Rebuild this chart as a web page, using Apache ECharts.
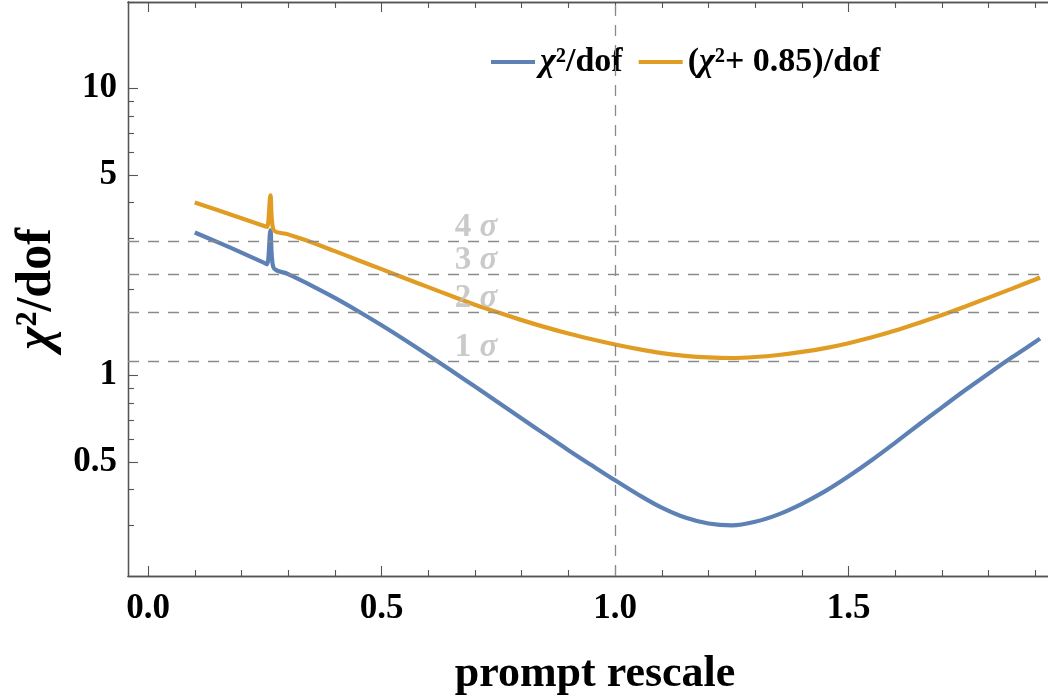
<!DOCTYPE html>
<html>
<head>
<meta charset="utf-8">
<script src="https://cdn.jsdelivr.net/npm/echarts@6/dist/echarts.min.js"></script>
<style>html,body{margin:0;padding:0;background:#fff;}#chart{width:1048px;height:698px;}</style>
</head>
<body>
<div id="chart"></div>
<script>
// ---- data ----
const promptRescale = [0.10,0.15,0.20,0.25,0.255,0.262,0.268,0.30,0.35,0.40,0.45,0.50,0.55,0.60,0.65,0.70,0.75,0.80,0.85,0.90,0.95,1.00,1.05,1.10,1.15,1.20,1.25,1.30,1.35,1.40,1.45,1.50,1.55,1.60,1.65,1.70,1.75,1.80,1.85,1.90,1.91];
const chi2dof = [3.148,2.908,2.679,2.460,2.438,3.20,2.385,2.254,2.056,1.862,1.673,1.495,1.329,1.176,1.038,0.914,0.805,0.708,0.623,0.549,0.486,0.431,0.384,0.346,0.3195,0.3047,0.3003,0.309,0.328,0.357,0.395,0.445,0.507,0.583,0.673,0.774,0.889,1.016,1.156,1.309,1.343];
const chi2PlusDof = [4.00,3.76,3.53,3.31,3.29,4.24,3.23,3.10,2.91,2.71,2.52,2.345,2.18,2.03,1.89,1.764,1.655,1.558,1.473,1.399,1.336,1.281,1.234,1.196,1.170,1.155,1.150,1.159,1.178,1.207,1.245,1.295,1.357,1.433,1.523,1.624,1.739,1.866,2.006,2.159,2.193];
const sigmaLevels = [1.12, 1.66, 2.25, 2.93];
const sigmaNames = ['1', '2', '3', '4'];
const refLineX = [1.0];
const xMajorTicks = [0, 0.5, 1.0, 1.5];
const xMinorTicks = [0.1,0.2,0.3,0.4,0.6,0.7,0.8,0.9,1.1,1.2,1.3,1.4,1.6,1.7,1.8,1.9];
const yMajorTicks = [0.5, 1, 5, 10];
const yMinorTicks = [0.3,0.4,0.6,0.7,0.8,0.9,2,3,4,6,7,8,9,20];
const seriesNames = ['chi2', 'chi2plus'];

// ---- styles ----
const FONT = 'Liberation Serif';
const AX = '#555555';
const BLUE = '#5E81B5';
const ORANGE = '#E19C24';
const SIGMA_GREY = '#bdbdbd';
const XMIN = -0.043, XMAX = 1.927, YMIN = 0.2, YMAX = 20;

function xAxisDef(pos, ticks, len, labels) {
  return {
    type: 'value', min: XMIN, max: XMAX, position: pos,
    axisLine: { show: true, onZero: false, lineStyle: { color: AX, width: 1.3 } },
    axisTick: { show: true, inside: true, length: len, customValues: ticks, lineStyle: { color: AX, width: 1.1 } },
    axisLabel: labels ? {
      show: true, customValues: ticks, margin: 15, color: '#000',
      fontFamily: FONT, fontWeight: 'bold', fontSize: 35,
      formatter: v => Number(v).toFixed(1)
    } : { show: false },
    splitLine: { show: false }
  };
}
function yAxisDef(ticks, len, labels) {
  return {
    type: 'log', logBase: 10, min: YMIN, max: YMAX, position: 'left',
    axisLine: { show: true, onZero: false, lineStyle: { color: AX, width: 1.3 } },
    axisTick: { show: true, inside: true, length: len, customValues: ticks, lineStyle: { color: AX, width: 1.1 } },
    axisLabel: labels ? {
      show: true, customValues: ticks, margin: 11, color: '#000',
      fontFamily: FONT, fontWeight: 'bold', fontSize: 35,
      formatter: v => String(Number(v))
    } : { show: false },
    splitLine: { show: false }
  };
}

const xData = xAxisDef('bottom', xMajorTicks, 10, true);
xData.name = 'prompt rescale';
xData.nameLocation = 'middle';
xData.nameGap = 77;
xData.nameTextStyle = { fontFamily: FONT, fontWeight: 'bold', fontSize: 44, color: '#000', padding: [0, 0, 0, 14] };

const yData = yAxisDef(yMajorTicks, 10, true);
yData.name = '{i|χ}{n|²/dof}';
yData.nameLocation = 'middle';
yData.nameGap = 60;
yData.nameTextStyle = {
  fontFamily: FONT, fontWeight: 'bold', fontSize: 50, color: '#000',
  rich: {
    i: { fontFamily: FONT, fontWeight: 'bold', fontStyle: 'italic', fontSize: 50, color: '#000' },
    n: { fontFamily: FONT, fontWeight: 'bold', fontSize: 50, color: '#000' }
  }
};

const pairs = (xs, ys) => xs.map((x, i) => [x, ys[i]]);

const lineMarks = {
  silent: true, symbol: 'none',
  label: { show: false },
  lineStyle: { color: '#8a8a8a', type: [11, 9], width: 1.3 },
  data: sigmaLevels.map(v => ({ yAxis: v })).concat(refLineX.map(v => ({ xAxis: v })))
};

const option = {
  animation: false,
  backgroundColor: '#fff',
  grid: { left: 128, right: 0, top: 2, bottom: 122, containLabel: false, outerBoundsMode: 'none' },
  legend: {
    left: 491, top: 45, padding: 0,
    icon: 'rect', itemWidth: 44, itemHeight: 4, itemGap: 16,
    data: seriesNames,
    formatter: n => n === 'chi2' ? '{i|χ}{n|²/dof}' : '{n|(}{i|χ}{n|²+ 0.85)/dof}',
    textStyle: {
      fontFamily: FONT, fontWeight: 'bold', fontSize: 34, color: '#000',
      rich: {
        i: { fontFamily: FONT, fontWeight: 'bold', fontStyle: 'italic', fontSize: 34, color: '#000' },
        n: { fontFamily: FONT, fontWeight: 'bold', fontSize: 34, color: '#000' }
      }
    }
  },
  xAxis: [
    xData,
    xAxisDef('bottom', xMinorTicks, 6, false),
    xAxisDef('top', xMajorTicks, 10, false),
    xAxisDef('top', xMinorTicks, 6, false)
  ],
  yAxis: [
    yData,
    yAxisDef(yMinorTicks, 6, false)
  ],
  series: [
    {
      name: 'chi2', type: 'line', xAxisIndex: 0, yAxisIndex: 0,
      data: pairs(promptRescale, chi2dof),
      showSymbol: false, symbol: 'none', smooth: 0.35,
      lineStyle: { color: BLUE, width: 4.2 }, itemStyle: { color: BLUE },
      markLine: lineMarks, z: 3
    },
    {
      name: 'chi2plus', type: 'line', xAxisIndex: 0, yAxisIndex: 0,
      data: pairs(promptRescale, chi2PlusDof),
      showSymbol: false, symbol: 'none', smooth: 0.35,
      lineStyle: { color: ORANGE, width: 4.2 }, itemStyle: { color: ORANGE }, z: 4
    },
    {
      name: 'sigmaLabels', type: 'scatter', xAxisIndex: 0, yAxisIndex: 0,
      symbolSize: 0, silent: true, z: 5,
      data: sigmaLevels.map((v, i) => ({ value: [0.702, v], name: sigmaNames[i] })),
      label: {
        show: true, position: 'top', distance: -3,
        formatter: p => '{n|' + p.name + ' }{s|σ}',
        rich: {
          n: { fontFamily: FONT, fontWeight: 'bold', fontSize: 33, color: SIGMA_GREY },
          s: { fontFamily: FONT, fontWeight: 'bold', fontStyle: 'italic', fontSize: 33, color: SIGMA_GREY }
        }
      }
    }
  ]
};

const chart = echarts.init(document.getElementById('chart'), null, { renderer: 'canvas' });
chart.setOption(option);
</script>
</body>
</html>
